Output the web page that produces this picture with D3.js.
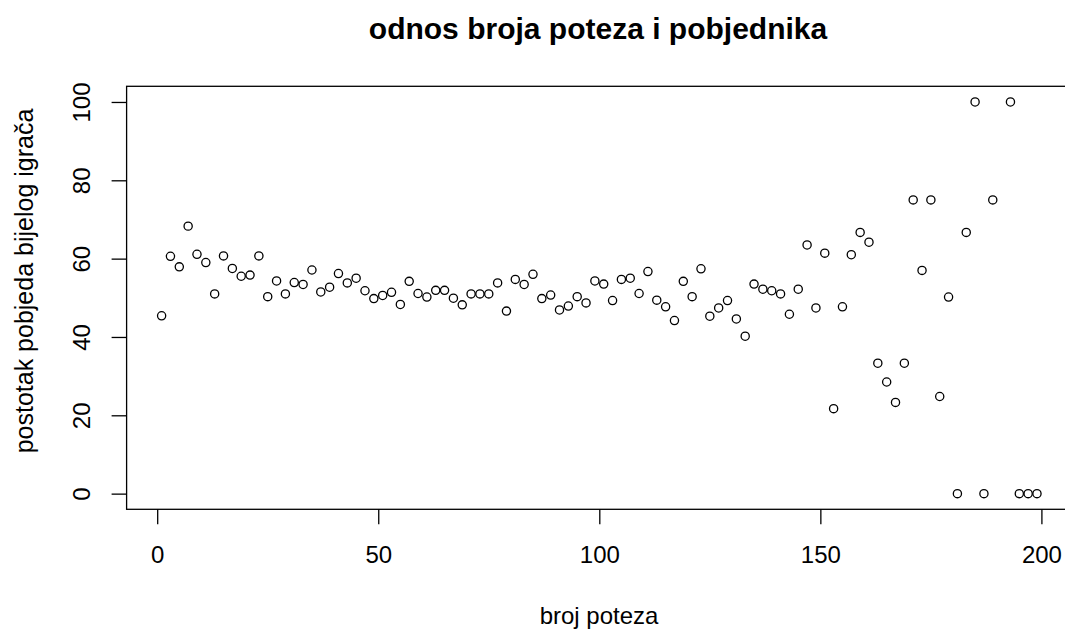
<!DOCTYPE html>
<html>
<head>
<meta charset="utf-8">
<script src="https://cdn.jsdelivr.net/npm/d3@7"></script>
<style>
  body { margin: 0; background: #fff; }
  text { font-family: 'Liberation Sans', Arial, sans-serif; fill: #000; }
</style>
</head>
<body>
<svg id="svg" width="1065" height="630"></svg>
<script>
// broj poteza (x) i postotak pobjeda bijelog igraca (y)
const brojPoteza = [1, 3, 5, 7, 9, 11, 13, 15, 17, 19, 21, 23, 25, 27, 29, 31, 33, 35, 37, 39,
  41, 43, 45, 47, 49, 51, 53, 55, 57, 59, 61, 63, 65, 67, 69, 71, 73, 75, 77, 79,
  81, 83, 85, 87, 89, 91, 93, 95, 97, 99, 101, 103, 105, 107, 109, 111, 113, 115, 117, 119,
  121, 123, 125, 127, 129, 131, 133, 135, 137, 139, 141, 143, 145, 147, 149, 151, 153, 155, 157, 159,
  161, 163, 165, 167, 169, 171, 173, 175, 177, 179, 181, 183, 185, 187, 189, 193, 195, 197, 199]
const postotak = [45.4, 60.6, 57.9, 68.3, 61.1, 59.0, 51.0, 60.7, 57.5, 55.5, 55.8, 60.7, 50.3, 54.3, 51.0, 53.9, 53.4, 57.1, 51.5, 52.7,
  56.2, 53.8, 55.0, 51.8, 49.8, 50.6, 51.4, 48.3, 54.2, 51.1, 50.2, 51.9, 51.9, 49.9, 48.2, 51.0, 51.0, 51.0, 53.8, 46.6,
  54.7, 53.4, 56.0, 49.8, 50.7, 46.9, 47.9, 50.3, 48.7, 54.3, 53.5, 49.3, 54.7, 55.0, 51.1, 56.7, 49.4, 47.7, 44.2, 54.2,
  50.3, 57.4, 45.3, 47.4, 49.3, 44.6, 40.2, 53.5, 52.2, 51.8, 51.0, 45.8, 52.2, 63.5, 47.4, 61.4, 21.7, 47.7, 61.0, 66.7,
  64.2, 33.3, 28.5, 23.3, 33.3, 75, 57.0, 75, 24.8, 50.2, 0, 66.7, 100, 0, 75, 100, 0, 0, 0]
const xTicks = [0, 50, 100, 150, 200]
const yTicks = [0, 20, 40, 60, 80, 100]

const data = brojPoteza.map((x, i) => ({ x: x, y: postotak[i] }))

// R style 4% padding of the data range
const xPad = (d3.max(brojPoteza) - d3.min(brojPoteza)) * 0.04
const yPad = (d3.max(postotak) - d3.min(postotak)) * 0.04

const plotLeft = 126.6, plotRight = 1072, plotTop = 86.3, plotBottom = 509.3

const xScale = d3.scaleLinear()
  .domain([d3.min(brojPoteza) - xPad, d3.max(brojPoteza) + xPad])
  .range([plotLeft, plotRight])

const yScale = d3.scaleLinear()
  .domain([d3.min(postotak) - yPad, d3.max(postotak) + yPad])
  .range([plotBottom, plotTop])

const svg = d3.select('#svg')

svg.append('rect')
  .attr('x', plotLeft)
  .attr('y', plotTop)
  .attr('width', plotRight - plotLeft)
  .attr('height', plotBottom - plotTop)
  .attr('fill', 'none')
  .attr('stroke', '#000')
  .attr('stroke-width', 1.3)

const xAxis = svg.append('g')
  .attr('transform', `translate(0,${plotBottom})`)
  .call(d3.axisBottom(xScale).tickValues(xTicks).tickFormat(d3.format('d')).tickSize(15).tickPadding(22))
xAxis.select('.domain').remove()
xAxis.selectAll('line').attr('stroke', '#000').attr('stroke-width', 1.3)
xAxis.selectAll('text')
  .attr('font-size', '24px')
  .style('font-family', "'Liberation Sans', Arial, sans-serif")
  .attr('fill', '#000')

const yAxis = svg.append('g')
  .attr('transform', `translate(${plotLeft},0)`)
  .call(d3.axisLeft(yScale).tickValues(yTicks).tickFormat(d3.format('d')).tickSize(15))
yAxis.select('.domain').remove()
yAxis.selectAll('line').attr('stroke', '#000').attr('stroke-width', 1.3)
yAxis.selectAll('text')
  .attr('x', 0)
  .attr('dy', 0)
  .attr('text-anchor', 'middle')
  .attr('transform', 'translate(-36.6,0) rotate(-90)')
  .attr('font-size', '24px')
  .style('font-family', "'Liberation Sans', Arial, sans-serif")
  .attr('fill', '#000')

svg.append('g')
  .selectAll('circle')
  .data(data)
  .enter()
  .append('circle')
  .attr('cx', d => xScale(d.x))
  .attr('cy', d => yScale(d.y))
  .attr('r', 4.1)
  .attr('fill', 'none')
  .attr('stroke', '#000')
  .attr('stroke-width', 1.3)

svg.append('text')
  .text('odnos broja poteza i pobjednika')
  .attr('x', 598)
  .attr('y', 39)
  .attr('text-anchor', 'middle')
  .style('font-weight', 'bold')
  .style('font-size', '30px')

svg.append('text')
  .text('broj poteza')
  .attr('x', 599)
  .attr('y', 624)
  .attr('text-anchor', 'middle')
  .style('font-size', '24px')

svg.append('text')
  .text('postotak pobjeda bijelog igrača')
  .attr('transform', 'translate(33,281) rotate(-90)')
  .attr('text-anchor', 'middle')
  .style('font-size', '25px')
</script>
</body>
</html>
